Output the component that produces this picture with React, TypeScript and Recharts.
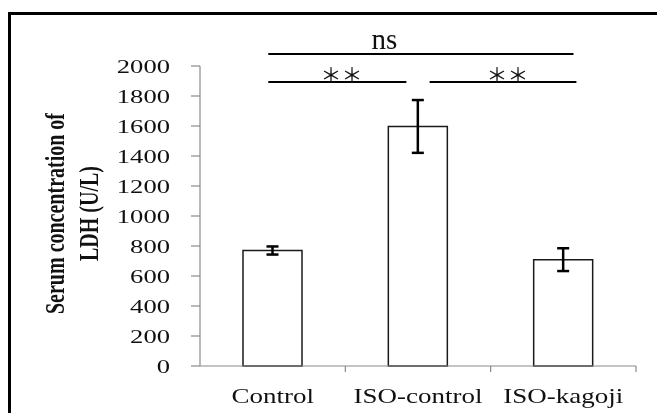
import React from "react";
import { BarChart, Bar, XAxis, YAxis, ErrorBar, ReferenceLine } from "recharts";

const groups = ["Control", "ISO-control", "ISO-kagoji"];
const ldhMean = [770, 1597, 709];
const ldhSem = [27, 176, 76];
const yTicks = [0, 200, 400, 600, 800, 1000, 1200, 1400, 1600, 1800, 2000];

// significance brackets, x in group units (0..3), y in U/L
const sigFrom = [0.47, 0.47, 1.58];
const sigTo = [2.57, 1.42, 2.59];
const sigLevel = [2080, 1893, 1893];
const sigText = ["ns", "＊＊", "＊＊"];

const data = groups.map((g, i) => ({ group: g, pos: i + 0.5, ldh: ldhMean[i], sem: ldhSem[i] }));

const SERIF = "'Liberation Serif', 'Times New Roman', serif";
const AXIS = "#8a8a8a";

function XTick(props: any) {
  const { x, y, payload, width, visibleTicksCount } = props;
  const half = payload.offset ?? width / visibleTicksCount / 2;
  return (
    <g>
      <line x1={x + half} x2={x + half} y1={y - 6} y2={y} stroke={AXIS} strokeWidth={1.2} />
      <g transform={`translate(${x},${y + 31}) scale(1.35,1)`}>
        <text textAnchor="middle" fontSize={20} fontFamily={SERIF} fill="#111">{payload.value}</text>
      </g>
    </g>
  );
}

function YTick(props: any) {
  const { x, y, payload } = props;
  return (
    <g transform={`translate(${x},${y + 6.5}) scale(1.4,1)`}>
      <text textAnchor="end" fontSize={19} fontFamily={SERIF} fill="#111">
        {payload.value}
      </text>
    </g>
  );
}

function YLabel(props: any) {
  const vb = props.viewBox;
  const cy = vb.y + vb.height / 2 - 2.5;
  const lines = ["Serum concentration of", "LDH (U/L)"];
  const base = [55.5, 90];
  return (
    <g>
      {lines.map((t, i) => (
        <text
          key={t}
          transform={`translate(${vb.x + base[i]},${cy}) rotate(-90) scale(1,1.35)`}
          textAnchor="middle"
          fontSize={20}
          fontWeight="bold"
          fontFamily={SERIF}
          fill="#111"
        >
          {t}
        </text>
      ))}
    </g>
  );
}

function SigLabel(text: string) {
  const isNs = text === "ns";
  return (props: any) => {
    const vb = props.viewBox;
    const at = isNs ? 0.38 : 0.53;
    return (
      <text
        x={vb.x + vb.width * at}
        y={vb.y + (isNs ? -5 : 1)}
        textAnchor="middle"
        fontSize={isNs ? 29 : 21}
        fontFamily={isNs ? SERIF : "'Noto Sans CJK JP', sans-serif"}
        fill="#111"
      >
        {text}
      </text>
    );
  };
}

export default function App() {
  return (
    <div style={{ paddingLeft: 8, paddingTop: 8 }}>
      <style>{"body{margin:0;overflow:hidden}"}</style>
      <div
        style={{
          position: "fixed",
          left: 8,
          top: 12,
          right: 0,
          bottom: 0,
          borderLeft: "3px solid #000",
          borderTop: "3px solid #000",
          pointerEvents: "none",
        }}
      />
      <BarChart width={641} height={405} data={data} margin={{ top: 58, right: 13, bottom: 8, left: 0 }}>
        <XAxis
          dataKey="group"
          height={39}
          stroke={AXIS}
          strokeWidth={1.2}
          tickLine={false}
          tickSize={6}
          tickMargin={0}
          interval={0}
          tick={<XTick />}
        />
        <XAxis xAxisId="sig" dataKey="pos" type="number" domain={[0, 3]} allowDataOverflow hide />
        <YAxis
          type="number"
          domain={[0, 2000]}
          ticks={yTicks}
          interval={0}
          width={192}
          stroke={AXIS}
          strokeWidth={1.2}
          tickSize={9}
          tickMargin={21}
          tick={<YTick />}
          label={{ content: YLabel }}
        />
        <Bar dataKey="ldh" fill="#fff" stroke="#1a1a1a" strokeWidth={1.5} barSize={59} isAnimationActive={false}>
          <ErrorBar dataKey="sem" width={6} stroke="#000" strokeWidth={2.5} direction="y" isAnimationActive={false} />
        </Bar>
        {sigText.map((t, i) => (
          <ReferenceLine
            key={i}
            xAxisId="sig"
            ifOverflow="visible"
            segment={[
              { x: sigFrom[i], y: sigLevel[i] },
              { x: sigTo[i], y: sigLevel[i] },
            ]}
            stroke="#000"
            strokeWidth={2}
            label={{ content: SigLabel(t) }}
          />
        ))}
      </BarChart>
    </div>
  );
}
